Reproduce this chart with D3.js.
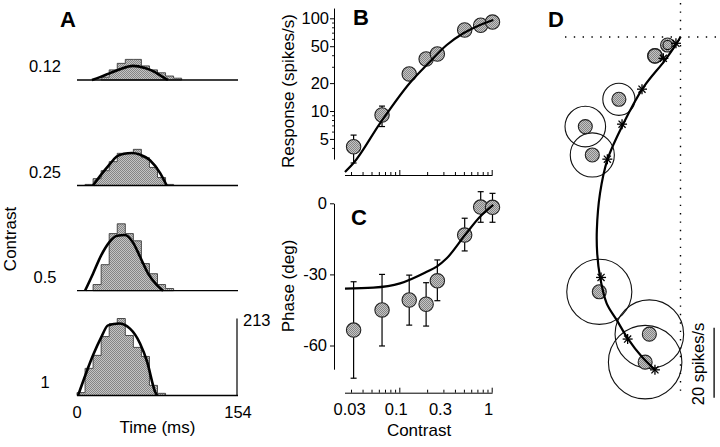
<!DOCTYPE html>
<html><head><meta charset="utf-8">
<script src="https://cdn.jsdelivr.net/npm/d3@7"></script>
<style>
body{margin:0;background:#fff;}
svg{display:block;font-family:"Liberation Sans",Arial,Helvetica,sans-serif;}
</style></head><body>
<svg id="chart" width="720" height="447"></svg>
<script>
// ---------------- Panel A data (spike-time histograms) ----------------
const contrastLabelsA = ["0.12", "0.25", "0.5", "1"];
const binWidthMs = 7.7;
const histA1 = [0,0,0,8,28,46,57,57,39,28,20,11,5,0,0,0,0,0,0,0];
const histA2 = [0,3,19,41,66,89,89,100,77,50,22,3,0,0,0,0,0,0,0,0];
const histA3 = [0,0,17,72,158,185,158,138,75,47,17,6,0,0,0,0,0,0,0,0];
const histA4 = [8,75,111,163,199,213,166,133,108,28,6,0,0,0,0,0,0,0,0,0];
const fitA1_t = [14.3,22.0,31.6,41.1,53.6,65.0,74.6,82.3,87.0];
const fitA1_r = [0,8,19,30,39,33,22,8,0];
const fitA2_t = [15.3,22.0,31.6,38.0,45.0,52.3,60.0,69.8,79.4,85.8];
const fitA2_r = [0,26,60,80,88,90,86,70,35,0];
const fitA3_t = [7.7,15.3,23.0,30.6,38.3,45.9,53.6,60.3,67.9,76.2,82.3];
const fitA3_r = [0,47,97,133,152,154,133,94,48,16,0];
const fitA4_t = [1.0,8.6,15.3,23.0,29.7,40.2,50.7,60.3,67.0,74.6,76.5];
const fitA4_r = [0,61,111,160,194,199,185,144,94,11,0];
const timeTicks = [0, 154];
const rateScaleBar = 213;

// ---------------- Panels B & C data ----------------
const contrasts = [0.032,0.065,0.128,0.195,0.258,0.51,0.76,1.02];
const respB    = [4.12,9.06,25.1,36.4,41.2,74.8,84.2,91.0];
const respB_lo = [2.75,6.8,24.2,35.2,40.0,73.0,82.5,89.5];
const respB_hi = [5.5,11.3,26.0,37.6,42.4,76.5,86.0,92.5];
const fitB_c = [0.0258,0.0318,0.0618,0.1305,0.206,0.326,0.493,0.747,1.04];
const fitB_r = [2.2,2.73,7.36,20.2,32.7,51.5,68.9,84.7,95.9];
const phaseC    = [-53.5,-45.0,-40.8,-42.6,-32.7,-13.4,-1.6,-1.7];
const phaseC_lo = [-73.8,-60.2,-51.4,-51.8,-41.1,-20.1,-8.0,-8.0];
const phaseC_hi = [-33.1,-30.0,-30.3,-33.5,-23.9,-6.3,4.9,4.2];
const fitC_c = [0.0258,0.0522,0.1018,0.198,0.254,0.326,0.514,0.747,1.04];
const fitC_p = [-36.0,-35.6,-33.8,-28.9,-26.7,-23.2,-13.4,-5.7,-0.7];
const contrastTicks = [0.03,0.1,0.3,1];
const contrastMinor = [0.03,0.04,0.05,0.06,0.07,0.08,0.09,0.2,0.3,0.4,0.5,0.6,0.7,0.8,0.9];
const contrastMajor = [0.1,1];
const respTicks = [5,10,20,50,100];
const respMinor = [4,6,7,8,9,30,40,60,70,80,90];
const phaseTicks = [0,-30,-60];

// ---------------- Panel D data (spikes/s, x right, y up) ----------------
const dX = [-3.7,-7.3,-17.6,-27.2,-25.2,-23.2,-8.9,-10.1];
const dY = [-2.3,-5.4,-17.8,-25.6,-33.7,-72.8,-84.9,-92.9];
const dRing = [1.3,2.1,4.6,5.8,6.3,9.3,9.8,10.5];
const fitD_x = [0,-1.1,-4.4,-10.6,-16.3,-20.9,-23.0,-23.9,-23.8,-23.0,-21.1,-18.2,-14.9,-11.1,-7.3];
const fitD_y = [0,-1.8,-6.6,-14.4,-24.7,-35.1,-44.7,-55.1,-61.8,-68.5,-76.1,-80.9,-86.4,-91.3,-95.1];
const starD_x = [-1.3,-4.9,-11.0,-16.7,-20.9,-22.7,-15.1,-7.3];
const starD_y = [-1.8,-6.1,-14.9,-24.9,-34.9,-68.7,-86.3,-95.1];
const scaleBarD = 20;

// ---------------- drawing ----------------
const svg = d3.select("#chart");
// stippled grey fill, like the halftone of the original
const defs = svg.append("defs");
const pat = defs.append("pattern").attr("id", "stip").attr("patternUnits", "userSpaceOnUse")
  .attr("width", 2).attr("height", 2);
pat.append("rect").attr("width", 2).attr("height", 2).attr("fill", "#c4c4c4");
pat.append("rect").attr("width", 1).attr("height", 1).attr("fill", "#858585");
pat.append("rect").attr("x", 1).attr("y", 1).attr("width", 1).attr("height", 1).attr("fill", "#858585");
const GREY = "url(#stip)";
const FS = "16.5px";

function letter(x, y, t) {
  svg.append("text").attr("x", x).attr("y", y).attr("font-size", "22px")
    .attr("font-weight", "bold").attr("text-anchor", "middle").text(t);
}

// ===== Panel A =====
const gA = svg.append("g");
const xA = d3.scaleLinear().domain([0, 154]).range([77, 238]);
const rowBase = [80, 185.5, 290.7, 395.5];
const rows = [
  {label: contrastLabelsA[0], bins: histA1, t: fitA1_t, r: fitA1_r},
  {label: contrastLabelsA[1], bins: histA2, t: fitA2_t, r: fitA2_r},
  {label: contrastLabelsA[2], bins: histA3, t: fitA3_t, r: fitA3_r},
  {label: contrastLabelsA[3], bins: histA4, t: fitA4_t, r: fitA4_r}
];
let yLast;
rows.forEach((row, k) => {
  const base = rowBase[k];
  const y = d3.scaleLinear().domain([0, rateScaleBar]).range([base, base - 77]);
  yLast = y;
  const idx = row.bins.map((v, i) => v > 0 ? i : -1).filter(i => i >= 0);
  const f = idx[0], l = idx[idx.length - 1];
  const p = d3.path();
  p.moveTo(xA(f * binWidthMs), y(0));
  for (let i = f; i <= l; i++) {
    p.lineTo(xA(i * binWidthMs), y(row.bins[i]));
    p.lineTo(xA((i + 1) * binWidthMs), y(row.bins[i]));
  }
  p.lineTo(xA((l + 1) * binWidthMs), y(0));
  p.closePath();
  gA.append("path").attr("d", p.toString()).attr("fill", GREY)
    .attr("stroke", "#3c3c3c").attr("stroke-width", 0.9);
  gA.append("line").attr("x1", xA(0)).attr("x2", xA(154)).attr("y1", base).attr("y2", base)
    .attr("stroke", "#000").attr("stroke-width", 1.3);
  const pts = row.t.map((t, i) => [t, row.r[i]]);
  gA.append("path").attr("d", d3.line().x(d => xA(d[0])).y(d => y(d[1])).curve(d3.curveMonotoneX)(pts))
    .attr("fill", "none").attr("stroke", "#000").attr("stroke-width", 2.6);
  gA.append("text").attr("x", 45).attr("y", base - 8).attr("text-anchor", "middle")
    .attr("font-size", FS).text(row.label);
});
// vertical scale bar (213 spikes/s)
gA.append("line").attr("x1", xA(154) - 1).attr("x2", xA(154) - 1)
  .attr("y1", yLast(0)).attr("y2", yLast(rateScaleBar)).attr("stroke", "#000").attr("stroke-width", 1.2);
gA.append("text").attr("x", 243).attr("y", yLast(rateScaleBar) + 7).attr("font-size", FS).text(String(rateScaleBar));
timeTicks.forEach(t => gA.append("text").attr("x", xA(t)).attr("y", 418).attr("text-anchor", "middle")
  .attr("font-size", FS).text(String(t)));
gA.append("text").attr("x", xA(77)).attr("y", 433).attr("text-anchor", "middle").attr("font-size", "17px").text("Time (ms)");
gA.append("text").attr("transform", "translate(15.5,239) rotate(-90)").attr("text-anchor", "middle")
  .attr("font-size", "17px").text("Contrast");
letter(68, 27, "A");

// ===== Panel B =====
const gB = svg.append("g");
const xBC = d3.scaleLog().domain([0.0255, 1.01]).range([344.5, 492.1]);
const yB = d3.scaleLog().domain([3.03, 129]).range([159.1, 8.05]);
const axX = 334;
gB.append("g").attr("transform", `translate(${axX},0)`)
  .call(d3.axisLeft(yB).tickValues(respMinor).tickSize(2).tickSizeOuter(0).tickFormat(""))
  .call(g => g.selectAll("line").attr("stroke-width", 0.9));
gB.append("g").attr("transform", `translate(${axX},0)`)
  .call(d3.axisLeft(yB).tickValues(respTicks).tickSize(4).tickSizeOuter(0).tickPadding(1).tickFormat(d => String(d)))
  .call(g => g.select(".domain").remove())
  .call(g => g.selectAll("text").attr("font-size", FS).attr("fill", "#000").attr("font-family", null));
const bAxisY = 175;
gB.append("g").attr("transform", `translate(0,${bAxisY})`)
  .call(d3.axisBottom(xBC).tickValues(contrastMinor).tickSize(-3).tickSizeOuter(0).tickFormat(""));
gB.append("g").attr("transform", `translate(0,${bAxisY})`)
  .call(d3.axisBottom(xBC).tickValues(contrastMajor).tickSize(-5).tickSizeOuter(0).tickFormat(""))
  .call(g => g.select(".domain").remove());
contrasts.forEach((c, i) => {
  const x = xBC(c);
  gB.append("line").attr("x1", x).attr("x2", x).attr("y1", yB(respB_lo[i])).attr("y2", yB(respB_hi[i])).attr("stroke", "#000").attr("stroke-width", 1.2);
  [respB_lo[i], respB_hi[i]].forEach(v => gB.append("line").attr("x1", x - 3).attr("x2", x + 3)
    .attr("y1", yB(v)).attr("y2", yB(v)).attr("stroke", "#000").attr("stroke-width", 1.2));
});
gB.selectAll("circle.pt").data(contrasts).join("circle").attr("class", "pt")
  .attr("cx", d => xBC(d)).attr("cy", (d, i) => yB(respB[i])).attr("r", 7.2)
  .attr("fill", GREY).attr("stroke", "#222").attr("stroke-width", 1.1);
gB.append("path").attr("d", d3.line().x(d => xBC(d[0])).y(d => yB(d[1])).curve(d3.curveMonotoneX)(fitB_c.map((c, i) => [c, fitB_r[i]])))
  .attr("fill", "none").attr("stroke", "#000").attr("stroke-width", 2.2);
gB.append("text").attr("transform", "translate(294,91) rotate(-90)").attr("text-anchor", "middle")
  .attr("font-size", "17px").text("Response (spikes/s)");
letter(361, 25, "B");

// ===== Panel C =====
const gC = svg.append("g");
const yC = d3.scaleLinear().domain([-70, 0]).range([369.2, 203.3]);
gC.append("g").attr("transform", `translate(${axX},0)`)
  .call(d3.axisLeft(yC).tickValues(phaseTicks).tickSize(4).tickSizeOuter(0).tickPadding(3).tickFormat(d => String(d)))
  .call(g => g.selectAll("text").attr("font-size", FS).attr("fill", "#000").attr("font-family", null));
const cAxisY = 392.7;
gC.append("g").attr("transform", `translate(0,${cAxisY})`)
  .call(d3.axisBottom(xBC).tickValues(contrastMinor).tickSize(-3).tickSizeOuter(0).tickFormat(""));
gC.append("g").attr("transform", `translate(0,${cAxisY})`)
  .call(d3.axisBottom(xBC).tickValues(contrastMajor).tickSize(-5).tickSizeOuter(0).tickFormat(""))
  .call(g => g.select(".domain").remove());
gC.append("g").attr("transform", `translate(0,${cAxisY})`)
  .call(d3.axisBottom(xBC).tickValues(contrastTicks).tickSize(0).tickPadding(11).tickFormat(d => String(d)))
  .call(g => g.select(".domain").remove())
  .call(g => g.selectAll("text").attr("font-size", FS).attr("fill", "#000").attr("font-family", null).attr("dx", d => d === 0.03 ? -2 : -3.5));
contrasts.forEach((c, i) => {
  const x = xBC(c);
  gC.append("line").attr("x1", x).attr("x2", x).attr("y1", yC(phaseC_lo[i])).attr("y2", yC(phaseC_hi[i])).attr("stroke", "#000").attr("stroke-width", 1.2);
  [phaseC_lo[i], phaseC_hi[i]].forEach(v => gC.append("line").attr("x1", x - 3).attr("x2", x + 3)
    .attr("y1", yC(v)).attr("y2", yC(v)).attr("stroke", "#000").attr("stroke-width", 1.2));
});
gC.selectAll("circle.pt").data(contrasts).join("circle").attr("class", "pt")
  .attr("cx", d => xBC(d)).attr("cy", (d, i) => yC(phaseC[i])).attr("r", 7.2)
  .attr("fill", GREY).attr("stroke", "#222").attr("stroke-width", 1.1);
gC.append("path").attr("d", d3.line().x(d => xBC(d[0])).y(d => yC(d[1])).curve(d3.curveMonotoneX)(fitC_c.map((c, i) => [c, fitC_p[i]])))
  .attr("fill", "none").attr("stroke", "#000").attr("stroke-width", 2.2);
gC.append("text").attr("transform", "translate(294,286) rotate(-90)").attr("text-anchor", "middle")
  .attr("font-size", "17px").text("Phase (deg)");
gC.append("text").attr("x", 419).attr("y", 436).attr("text-anchor", "middle").attr("font-size", "17px").text("Contrast");
letter(359, 225, "C");

// ===== Panel D =====
const gD = svg.append("g");
const xD = d3.scaleLinear().domain([0, 10]).range([680.5, 715.5]);
const yD = d3.scaleLinear().domain([0, -10]).range([37, 72]);
const pxPerUnit = 3.5;
gD.append("line").attr("x1", xD(0)).attr("x2", xD(0)).attr("y1", yD(9.7)).attr("y2", yD(-103.1))
  .attr("stroke", "#000").attr("stroke-width", 1.4).attr("stroke-dasharray", "1.4,7");
gD.append("line").attr("x1", xD(-33)).attr("x2", xD(11.3)).attr("y1", yD(0)).attr("y2", yD(0))
  .attr("stroke", "#000").attr("stroke-width", 1.4).attr("stroke-dasharray", "1.4,7.4");
dX.forEach((x, i) => gD.append("circle").attr("cx", xD(x)).attr("cy", yD(dY[i])).attr("r", dRing[i] * pxPerUnit)
  .attr("fill", "none").attr("stroke", "#111").attr("stroke-width", 1.1));
dX.forEach((x, i) => gD.append("circle").attr("cx", xD(x)).attr("cy", yD(dY[i])).attr("r", 7)
  .attr("fill", GREY).attr("stroke", "#222").attr("stroke-width", 1.1));
gD.append("circle").attr("cx", xD(dX[0])).attr("cy", yD(dY[0])).attr("r", dRing[0] * pxPerUnit)
  .attr("fill", "none").attr("stroke", "#111").attr("stroke-width", 1.1);
gD.append("path").attr("d", d3.line().x(d => xD(d[0])).y(d => yD(d[1])).curve(d3.curveCatmullRom.alpha(0.5))(fitD_x.map((x, i) => [x, fitD_y[i]])))
  .attr("fill", "none").attr("stroke", "#000").attr("stroke-width", 2.2);
starD_x.forEach((x, i) => {
  const cx = xD(x), cy = yD(starD_y[i]);
  [0, 45, 90, 135].forEach(a => {
    const r = a * Math.PI / 180, L = 5;
    gD.append("line").attr("x1", cx - L * Math.cos(r)).attr("y1", cy - L * Math.sin(r))
      .attr("x2", cx + L * Math.cos(r)).attr("y2", cy + L * Math.sin(r))
      .attr("stroke", "#000").attr("stroke-width", 1.3);
  });
});
gD.append("line").attr("x1", xD(9.6)).attr("x2", xD(9.6)).attr("y1", yD(-83.1)).attr("y2", yD(-83.1 - scaleBarD))
  .attr("stroke", "#000").attr("stroke-width", 1.3);
gD.append("text").attr("transform", "translate(704,364) rotate(-90)").attr("text-anchor", "middle")
  .attr("font-size", FS).text(scaleBarD + " spikes/s");
letter(556, 27, "D");
</script>
</body></html>
